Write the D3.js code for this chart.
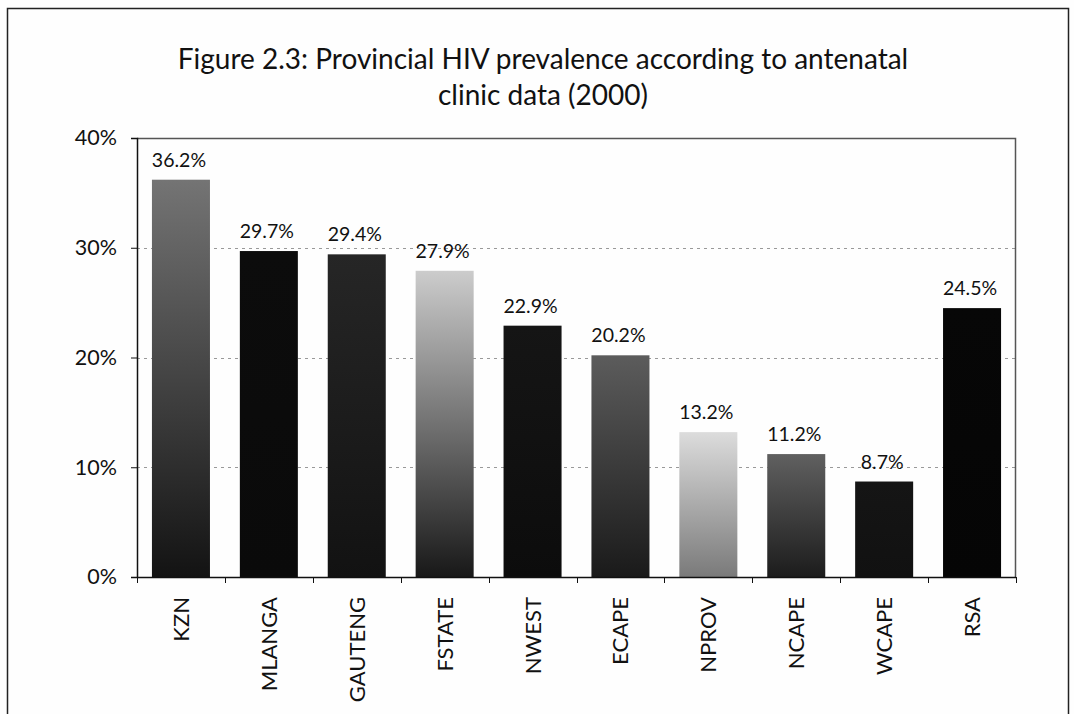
<!DOCTYPE html>
<html>
<head>
<meta charset="utf-8">
<script src="https://cdn.jsdelivr.net/npm/d3@7"></script>
<style>
  html, body { margin: 0; padding: 0; background: #fff; }
  svg { display: block; }
  text { font-family: Lato, "Open Sans", sans-serif; fill: #111; }
</style>
</head>
<body>
<svg id="chart" width="1074" height="714"></svg>
<script>
// ---- data ----
const categories = ["KZN", "MLANGA", "GAUTENG", "FSTATE", "NWEST", "ECAPE", "NPROV", "NCAPE", "WCAPE", "RSA"];
const prevalence = [36.2, 29.7, 29.4, 27.9, 22.9, 20.2, 13.2, 11.2, 8.7, 24.5];
const yTicks = [0, 10, 20, 30, 40];
const titleLines = ["Figure 2.3: Provincial HIV prevalence according to antenatal", "clinic data (2000)"];

// ---- styles (gradient top/bottom per bar) ----
const barTop    = ["#747474", "#0c0c0c", "#262626", "#cccccc", "#151515", "#5c5c5c", "#dcdcdc", "#606060", "#151515", "#070707"];
const barBottom = ["#131313", "#0a0a0a", "#121212", "#181818", "#0c0c0c", "#1a1a1a", "#7a7a7a", "#1c1c1c", "#111111", "#050505"];

const svg = d3.select("#chart");
const W = 1074, H = 714;
const plot = { left: 137, top: 138, right: 1016, bottom: 577 };

// outer frame
svg.append("rect").attr("x", 0).attr("y", 0).attr("width", W).attr("height", H).attr("fill", "#fefefe");
svg.append("rect").attr("x", 7.5).attr("y", 8.5).attr("width", 1061).attr("height", 720)
  .attr("fill", "none").attr("stroke", "#222").attr("stroke-width", 1.5);

// title
svg.append("text").attr("x", 543).attr("y", 69).attr("text-anchor", "middle")
  .style("font-size", "28px").text(titleLines[0]);
svg.append("text").attr("x", 543).attr("y", 105).attr("text-anchor", "middle")
  .style("font-size", "28px").text(titleLines[1]);

const x = d3.scaleBand().domain(categories).range([plot.left, plot.right])
  .paddingInner(0.34).paddingOuter(0.17);
const y = d3.scaleLinear().domain([0, 40]).range([plot.bottom, plot.top]);

// gradients
const defs = svg.append("defs");
categories.forEach((c, i) => {
  const g = defs.append("linearGradient").attr("id", "g" + i)
    .attr("x1", 0).attr("y1", 0).attr("x2", 0).attr("y2", 1);
  g.append("stop").attr("offset", "0%").attr("stop-color", barTop[i]);
  g.append("stop").attr("offset", "100%").attr("stop-color", barBottom[i]);
});

// gridlines
svg.append("g").selectAll("line").data(yTicks.filter(t => t > 0 && t < 40)).join("line")
  .attr("x1", plot.left).attr("x2", plot.right)
  .attr("y1", d => Math.round(y(d)) + 0.5).attr("y2", d => Math.round(y(d)) + 0.5)
  .attr("stroke", "#999").attr("stroke-width", 1).attr("stroke-dasharray", "3,4");

// plot frame top and right
svg.append("path")
  .attr("d", `M${plot.left},${plot.top + 0.5}H${plot.right - 0.5}V${plot.bottom}`)
  .attr("fill", "none").attr("stroke", "#555").attr("stroke-width", 1.5);

// bars
svg.append("g").selectAll("rect").data(categories).join("rect")
  .attr("x", d => x(d)).attr("width", x.bandwidth())
  .attr("y", (d, i) => y(prevalence[i]))
  .attr("height", (d, i) => y(0) - y(prevalence[i]))
  .attr("fill", (d, i) => `url(#g${i})`);

// value labels
svg.append("g").selectAll("text").data(categories).join("text")
  .attr("x", d => x(d) + x.bandwidth() / 2 - 2)
  .attr("y", (d, i) => y(prevalence[i]) - 13)
  .attr("text-anchor", "middle").style("font-size", "19.5px")
  .text((d, i) => prevalence[i].toFixed(1) + "%");

// y axis
const yAxis = d3.axisLeft(y).tickValues(yTicks).tickSize(6).tickPadding(14)
  .tickFormat(d => d + "%");
const gy = svg.append("g").attr("transform", `translate(${plot.left},0)`).call(yAxis);
gy.select(".domain").attr("stroke", "#111").attr("stroke-width", 1.5);
gy.selectAll(".tick line").attr("stroke", "#111");
gy.selectAll(".tick text").style("font-size", "21.5px").style("font-family", "Lato, sans-serif").attr("fill", "#111");

// x axis
const gx = svg.append("g").attr("transform", `translate(0,${plot.bottom})`);
gx.append("line").attr("x1", plot.left).attr("x2", plot.right).attr("y1", 0.5).attr("y2", 0.5)
  .attr("stroke", "#111").attr("stroke-width", 1.5);
const boundaries = categories.map(c => x(c) - x.step() * 0.17).concat([plot.right]);
gx.selectAll("line.tk").data(boundaries).join("line").attr("class", "tk")
  .attr("x1", d => Math.round(d) + 0.5).attr("x2", d => Math.round(d) + 0.5)
  .attr("y1", 0).attr("y2", 6).attr("stroke", "#111");
gx.selectAll("text").data(categories).join("text")
  .attr("transform", d => `translate(${x(d) + x.bandwidth() / 2 + 8},20) rotate(-90)`)
  .attr("text-anchor", "end").style("font-size", "22px")
  .text(d => d);
</script>
</body>
</html>
